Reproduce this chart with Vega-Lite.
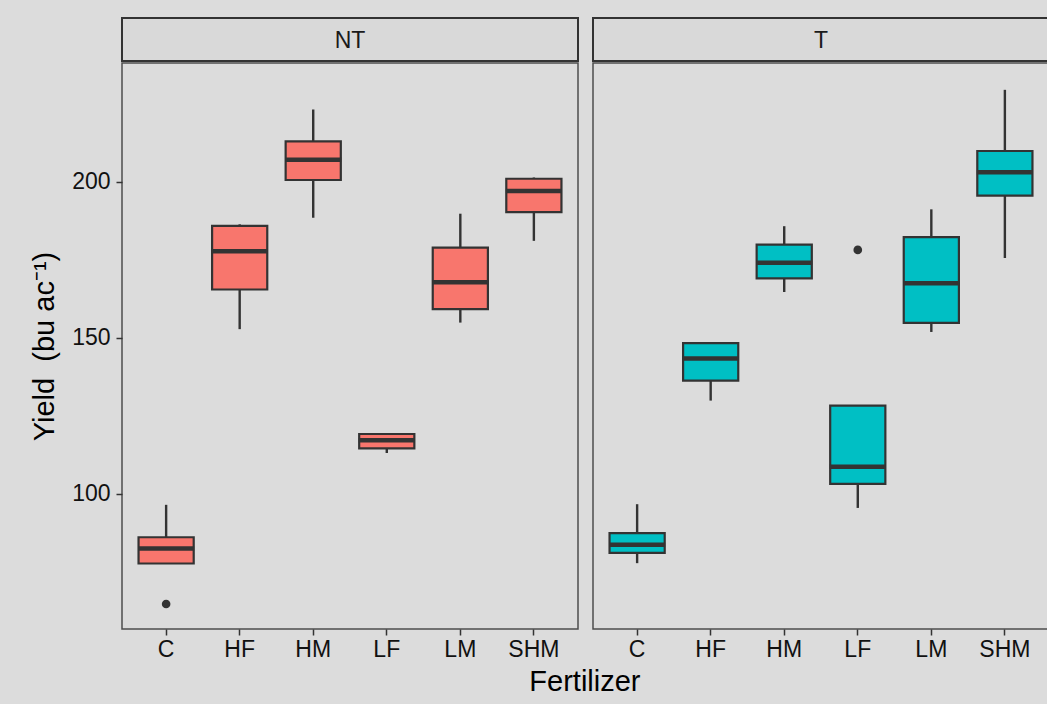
{
  "$schema": "https://vega.github.io/schema/vega-lite/v6.json",
  "background": "#DCDCDC",
  "padding": {"left": 29, "top": 17, "right": 0, "bottom": 12},
  "config": {
    "font": "Liberation Sans",
    "view": {"stroke": "#4D4D4D", "strokeWidth": 1.5},
    "concat": {"spacing": 13}
  },
  "datasets": {
    "boxes": [
      {"Tillage": "NT", "Fertilizer": "C", "lower": 77.7, "q1": 77.7, "median": 82.5, "q3": 86.1, "upper": 96.5},
      {"Tillage": "NT", "Fertilizer": "HF", "lower": 152.8, "q1": 165.5, "median": 177.8, "q3": 185.9, "upper": 186.4},
      {"Tillage": "NT", "Fertilizer": "HM", "lower": 188.5, "q1": 200.6, "median": 207.1, "q3": 213.0, "upper": 223.2},
      {"Tillage": "NT", "Fertilizer": "LF", "lower": 113.1, "q1": 114.6, "median": 117.2, "q3": 119.2, "upper": 119.3},
      {"Tillage": "NT", "Fertilizer": "LM", "lower": 154.9, "q1": 159.2, "median": 167.8, "q3": 178.9, "upper": 189.8},
      {"Tillage": "NT", "Fertilizer": "SHM", "lower": 181.1, "q1": 190.3, "median": 197.1, "q3": 201.0, "upper": 201.4},
      {"Tillage": "T", "Fertilizer": "C", "lower": 77.8, "q1": 81.1, "median": 83.7, "q3": 87.4, "upper": 96.7},
      {"Tillage": "T", "Fertilizer": "HF", "lower": 129.9, "q1": 136.3, "median": 143.4, "q3": 148.3, "upper": 148.6},
      {"Tillage": "T", "Fertilizer": "HM", "lower": 164.7, "q1": 169.1, "median": 174.1, "q3": 179.9, "upper": 185.8},
      {"Tillage": "T", "Fertilizer": "LF", "lower": 95.5, "q1": 103.2, "median": 108.7, "q3": 128.3, "upper": 128.3},
      {"Tillage": "T", "Fertilizer": "LM", "lower": 151.9, "q1": 154.8, "median": 167.5, "q3": 182.3, "upper": 191.2},
      {"Tillage": "T", "Fertilizer": "SHM", "lower": 175.6, "q1": 195.6, "median": 203.1, "q3": 209.9, "upper": 229.5}
    ],
    "outliers": [
      {"Tillage": "NT", "Fertilizer": "C", "Yield": 64.7},
      {"Tillage": "T", "Fertilizer": "LF", "Yield": 178.2}
    ]
  },
  "title": {"text": "Fertilizer", "orient": "bottom", "anchor": "middle", "fontSize": 29, "fontWeight": "normal", "color": "#000000", "offset": 6, "dx": 45},
  "hconcat": [
    {
      "vconcat": [
        {
          "width": 456, "height": 43,
          "view": {"stroke": "#333333", "strokeWidth": 2, "fill": "#D9D9D9"},
          "data": {"name": "boxes"},
          "transform": [{"filter": "datum.Tillage === 'NT'"}, {"aggregate": [{"op": "count", "as": "n"}], "groupby": ["Tillage"]}],
          "mark": {"type": "text", "fontSize": 23, "color": "#1A1A1A", "baseline": "middle", "align": "center", "dy": 1},
          "encoding": {"text": {"field": "Tillage"}}
        },
        {
          "width": 456, "height": 566,
          "layer": [
            {
              "data": {"name": "boxes"},
              "transform": [{"filter": "datum.Tillage === 'NT'"}],
              "layer": [
                {"mark": {"type": "rule", "color": "#333333", "strokeWidth": 2.4},
                 "encoding": {"y": {"field": "lower", "type": "quantitative"}, "y2": {"field": "upper"}}},
                {"mark": {"type": "bar", "width": {"band": 0.75}, "stroke": "#333333", "strokeWidth": 2.2},
                 "encoding": {"y": {"field": "q1", "type": "quantitative"}, "y2": {"field": "q3"},
                   "color": {"field": "Tillage", "type": "nominal", "scale": {"domain": ["NT", "T"], "range": ["#F8766D", "#00BFC4"]}, "legend": null}}},
                {"mark": {"type": "tick", "color": "#333333", "thickness": 4.5, "size": 56, "opacity": 1},
                 "encoding": {"y": {"field": "median", "type": "quantitative"}}}
              ]
            },
            {
              "data": {"name": "outliers"},
              "transform": [{"filter": "datum.Tillage === 'NT'"}],
              "mark": {"type": "point", "filled": true, "size": 75, "color": "#333333", "opacity": 1},
              "encoding": {"y": {"field": "Yield", "type": "quantitative"}}
            }
          ],
          "encoding": {
            "x": {"field": "Fertilizer", "type": "nominal", "sort": ["C", "HF", "HM", "LF", "LM", "SHM"],
              "scale": {"type": "band", "paddingInner": 0, "paddingOuter": 0.1},
              "axis": {"title": null, "labelAngle": 0, "labelFontSize": 23, "labelColor": "#111111", "domain": false, "tickColor": "#333333", "tickWidth": 1.5, "tickSize": 6, "labelPadding": 3}},
            "y": {"type": "quantitative",
              "scale": {"domain": [56.7, 238.1], "nice": false, "zero": false},
              "axis": {"title": "Yield\u00a0\u00a0(bu ac⁻¹)", "titleFontSize": 29, "titleFontWeight": "normal", "titleColor": "#000000", "titlePadding": 12,
                "values": [100, 150, 200], "grid": false, "domain": false, "labelFontSize": 23, "labelColor": "#111111", "tickColor": "#333333", "tickWidth": 1.5, "tickSize": 6, "labelPadding": 6}}
          }
        }
      ],
      "spacing": 0
    },
    {
      "vconcat": [
        {
          "width": 456, "height": 43,
          "view": {"stroke": "#333333", "strokeWidth": 2, "fill": "#D9D9D9"},
          "data": {"name": "boxes"},
          "transform": [{"filter": "datum.Tillage === 'T'"}, {"aggregate": [{"op": "count", "as": "n"}], "groupby": ["Tillage"]}],
          "mark": {"type": "text", "fontSize": 23, "color": "#1A1A1A", "baseline": "middle", "align": "center", "dy": 1},
          "encoding": {"text": {"field": "Tillage"}}
        },
        {
          "width": 456, "height": 566,
          "layer": [
            {
              "data": {"name": "boxes"},
              "transform": [{"filter": "datum.Tillage === 'T'"}],
              "layer": [
                {"mark": {"type": "rule", "color": "#333333", "strokeWidth": 2.4},
                 "encoding": {"y": {"field": "lower", "type": "quantitative"}, "y2": {"field": "upper"}}},
                {"mark": {"type": "bar", "width": {"band": 0.75}, "stroke": "#333333", "strokeWidth": 2.2},
                 "encoding": {"y": {"field": "q1", "type": "quantitative"}, "y2": {"field": "q3"},
                   "color": {"field": "Tillage", "type": "nominal", "scale": {"domain": ["NT", "T"], "range": ["#F8766D", "#00BFC4"]}, "legend": null}}},
                {"mark": {"type": "tick", "color": "#333333", "thickness": 4.5, "size": 56, "opacity": 1},
                 "encoding": {"y": {"field": "median", "type": "quantitative"}}}
              ]
            },
            {
              "data": {"name": "outliers"},
              "transform": [{"filter": "datum.Tillage === 'T'"}],
              "mark": {"type": "point", "filled": true, "size": 75, "color": "#333333", "opacity": 1},
              "encoding": {"y": {"field": "Yield", "type": "quantitative"}}
            }
          ],
          "encoding": {
            "x": {"field": "Fertilizer", "type": "nominal", "sort": ["C", "HF", "HM", "LF", "LM", "SHM"],
              "scale": {"type": "band", "paddingInner": 0, "paddingOuter": 0.1},
              "axis": {"title": null, "labelAngle": 0, "labelFontSize": 23, "labelColor": "#111111", "domain": false, "tickColor": "#333333", "tickWidth": 1.5, "tickSize": 6, "labelPadding": 3}},
            "y": {"type": "quantitative",
              "scale": {"domain": [56.7, 238.1], "nice": false, "zero": false},
              "axis": null}
          }
        }
      ],
      "spacing": 0
    }
  ]
}
